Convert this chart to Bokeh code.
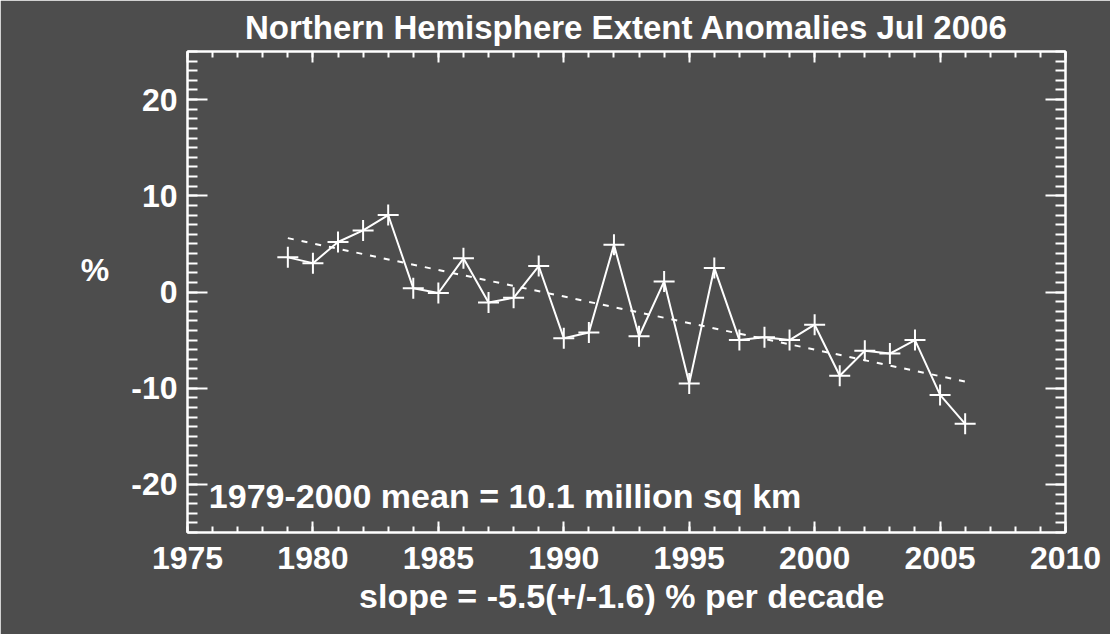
from bokeh.plotting import figure
from bokeh.models import LinearAxis, FixedTicker, Range1d, Label, Title
from bokeh.embed import file_html
from bokeh.resources import INLINE

# ---- data ----
years = [1979, 1980, 1981, 1982, 1983, 1984, 1985, 1986, 1987, 1988,
         1989, 1990, 1991, 1992, 1993, 1994, 1995, 1996, 1997, 1998,
         1999, 2000, 2001, 2002, 2003, 2004, 2005, 2006]
anomaly = [3.6, 3.0, 5.2, 6.4, 8.0, 0.4, -0.1, 3.5, -1.1, -0.6,
           2.7, -4.8, -4.2, 4.9, -4.6, 1.1, -9.5, 2.5, -5.0, -4.7,
           -5.0, -3.4, -8.7, -6.1, -6.4, -5.0, -10.7, -13.7]
trend_years = [1979, 2006]
trend_values = [5.6, -9.3]

x_major = [1975, 1980, 1985, 1990, 1995, 2000, 2005, 2010]
x_tick_labels = ["1975", "1980", "1985", "1990", "1995", "2000", "2005", "2010"]
x_minor = list(range(1975, 2011))
y_major = [-20, -10, 0, 10, 20]
y_tick_labels = ["-20", "-10", "0", "10", "20"]
y_minor = list(range(-25, 26))

title_text = "Northern Hemisphere Extent Anomalies Jul 2006"
ylabel_text = "%"
mean_text = "1979-2000 mean =  10.1 million sq km"
slope_text = "slope =  -5.5(+/-1.6) % per decade"

BG = "#4d4d4d"
FG = "white"
FONT = "'Liberation Sans', Arial, sans-serif"
FS = "32px"

p = figure(width=1110, height=634, output_backend="svg", toolbar_location=None,
           x_range=Range1d(1975, 2010), y_range=Range1d(-25, 25),
           min_border_left=187, min_border_right=45, min_border_top=51,
           min_border_bottom=102)
p.background_fill_color = BG
p.border_fill_color = BG
p.outline_line_color = FG
p.outline_line_width = 2
p.grid.visible = False

right_axis = LinearAxis()
top_axis = LinearAxis()
p.add_layout(right_axis, "right")
p.add_layout(top_axis, "above")

for ax in p.xaxis:
    ax.ticker = FixedTicker(ticks=x_major, minor_ticks=x_minor)
for ax in p.yaxis:
    ax.ticker = FixedTicker(ticks=y_major, minor_ticks=y_minor)

for ax in list(p.xaxis) + list(p.yaxis):
    ax.axis_line_color = FG
    ax.axis_line_width = 2
    ax.major_tick_line_color = FG
    ax.major_tick_line_width = 2
    ax.minor_tick_line_color = FG
    ax.minor_tick_line_width = 2
    ax.major_tick_out = 0
    ax.minor_tick_out = 0
    ax.major_label_text_color = FG
    ax.major_label_text_font = FONT
    ax.major_label_text_font_style = "bold"
    ax.major_label_text_font_size = FS
    ax.axis_label_text_color = FG
    ax.axis_label_text_font = FONT
    ax.axis_label_text_font_style = "bold"
    ax.axis_label_text_font_size = FS

for ax in p.xaxis:
    ax.major_tick_in = 11
    ax.minor_tick_in = 6
for ax in p.yaxis:
    ax.major_tick_in = 20
    ax.minor_tick_in = 10

bottom_axis = p.below[0]
left_axis = p.left[0]
bottom_axis.major_label_overrides = dict(zip(x_major, x_tick_labels))
left_axis.major_label_overrides = dict(zip(y_major, y_tick_labels))
bottom_axis.major_label_standoff = 14
left_axis.major_label_standoff = 10

bottom_axis.axis_label = slope_text
bottom_axis.axis_label_standoff = 5
bottom_axis.axis_label_text_font_size = "34px"
left_axis.axis_label = ylabel_text + "\n"
left_axis.axis_label_orientation = "horizontal"
left_axis.axis_label_standoff = 19

for ax in (right_axis, top_axis):
    ax.major_label_text_color = None
    ax.major_label_text_font_size = "1px"
    ax.major_label_standoff = 0

title = Title(text=title_text, align="center", text_color=FG, text_font=FONT,
              text_font_style="bold", text_font_size="33px", standoff=12)
p.add_layout(title, "above")

# trend line (dashed)
p.line(trend_years, trend_values, line_color=FG, line_width=2, line_dash="6 8")
# data line with plus markers
p.line(years, anomaly, line_color=FG, line_width=2)
p.scatter(years, anomaly, marker="cross", size=21, line_color=FG, line_width=2)

p.add_layout(Label(x=1975.85, y=-21.25, text=mean_text, text_color=FG,
                   text_font=FONT, text_font_style="bold", text_font_size="34px",
                   text_align="left", text_baseline="alphabetic"))

open("out.html", "w").write(file_html(p, INLINE))
